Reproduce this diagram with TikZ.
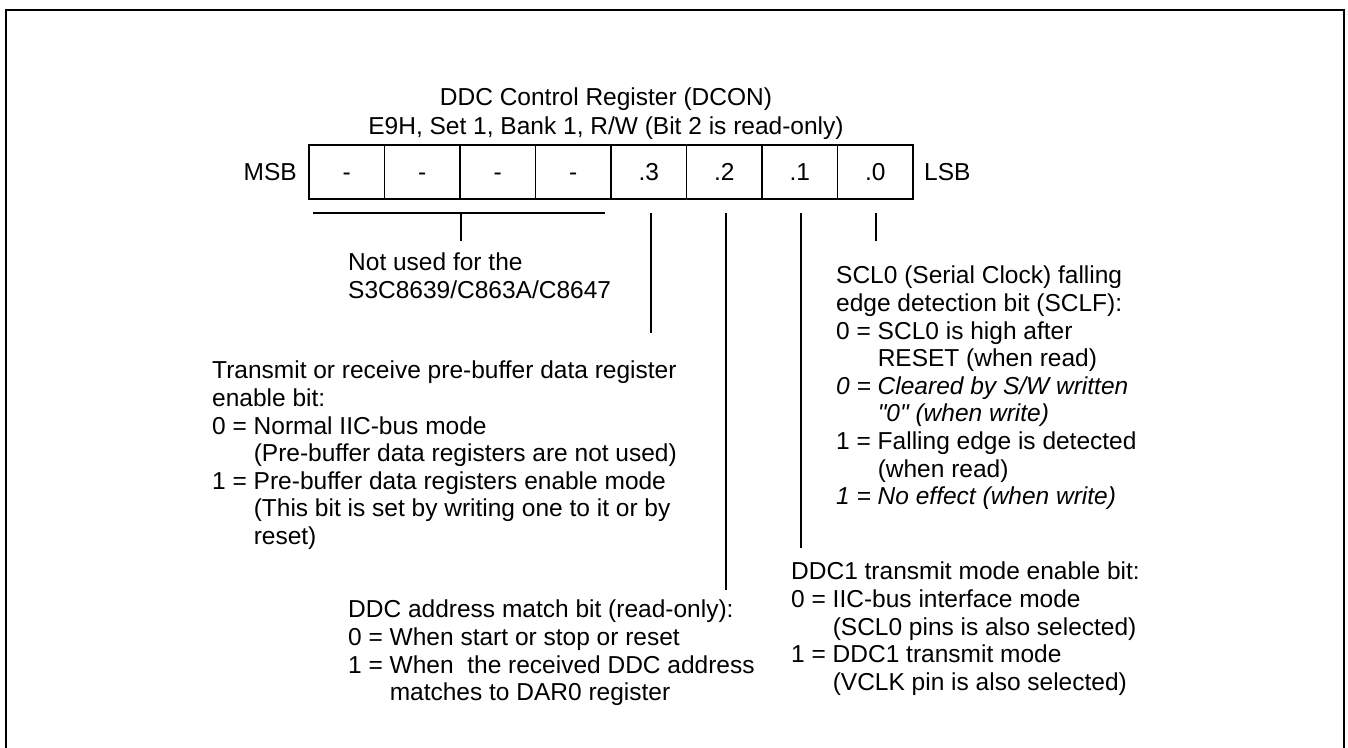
\documentclass[tikz,border=0pt]{standalone}
\usepackage{fontspec}
\setmainfont{Liberation Sans}[Ligatures=TeXOff]
\newcommand{\fsz}{\fontsize{24.5}{27.6}\selectfont}
\begin{document}
\begin{tikzpicture}[x=1pt,y=-1pt,
  txt/.style={inner sep=0pt, anchor=north west, align=left, font=\fsz},
  cell/.style={draw, line width=1.3pt, minimum width=75.5pt, minimum height=54pt,
               inner sep=0pt, text height=17.5pt, text depth=0pt, font=\fsz},
  lead/.style={line width=1.3pt}]
\clip (0,0) rectangle (1348,747);
\draw[line width=2.2pt] (6,10) rectangle (1344,800);
% title
\node[inner sep=0pt, anchor=north, align=center, font=\fsz] (title) at (606,88)
  {DDC Control Register (DCON)\\[1pt]E9H, Set 1, Bank 1, R/W (Bit 2 is read-only)};
% register cells
\node[cell] (c7) at (346.75,172) {-};
\node[cell] (c6) at (422.25,172) {-};
\node[cell] (c5) at (497.75,172) {-};
\node[cell] (c4) at (573.25,172) {-};
\node[cell] (c3) at (648.75,172) {.3};
\node[cell] (c2) at (724.25,172) {.2};
\node[cell] (c1) at (799.75,172) {.1};
\node[cell] (c0) at (875.25,172) {.0};
\node[inner sep=0pt, anchor=east, text height=17.5pt, text depth=0pt, font=\fsz] (msb) at (297,172) {MSB};
\node[inner sep=0pt, anchor=west, text height=17.5pt, text depth=0pt, font=\fsz] (lsb) at (924,172) {LSB};
% leader coordinates
\coordinate (brL) at (313,213);
\coordinate (brR) at (605,213);
\coordinate (brM) at (461,213);
\coordinate (brE) at (461,241);
\coordinate (s3) at (651,213);
\coordinate (e3) at (651,333);
\coordinate (s2) at (726,213);
\coordinate (e2) at (726,590);
\coordinate (s1) at (801,213);
\coordinate (e1) at (801,548);
\coordinate (s0) at (876,213);
\coordinate (e0) at (876,241);
\draw[lead] (brL) -- (brR);
\draw[lead] (brM) -- (brE);
\draw[lead] (s3) -- (e3);
\draw[lead] (s2) -- (e2);
\draw[lead] (s1) -- (e1);
\draw[lead] (s0) -- (e0);
% descriptions
\node[txt] (notused) at (348,253) {Not used for the\\S3C8639/C863A/C8647};
\node[txt] (sclf) at (836,266) {SCL0 (Serial Clock) falling\\edge detection bit (SCLF):\\0 = SCL0 is high after\\\phantom{0 = }RESET (when read)\\\textit{0 = Cleared by S/W written}\\\textit{\phantom{0 = }"0" (when write)}\\1 = Falling edge is detected\\\phantom{1 = }(when read)\\\textit{1 = No effect (when write)}};
\node[txt] (pbuf) at (212,361) {Transmit or receive pre-buffer data register\\enable bit:\\0 = Normal IIC-bus mode\\\phantom{0 = }(Pre-buffer data registers are not used)\\1 = Pre-buffer data registers enable mode\\\phantom{1 = }(This bit is set by writing one to it or by\\\phantom{1 = }reset)};
\node[txt] (addr) at (348,600) {DDC address match bit (read-only):\\0 = When start or stop or reset\\1 = When\ \ the received DDC address\\\phantom{1 = }matches to DAR0 register};
\node[txt] (ddc1) at (791,562) {DDC1 transmit mode enable bit:\\0 = IIC-bus interface mode\\\phantom{0 = }(SCL0 pins is also selected)\\1 = DDC1 transmit mode\\\phantom{1 = }(VCLK pin is also selected)};
\end{tikzpicture}
\end{document}
